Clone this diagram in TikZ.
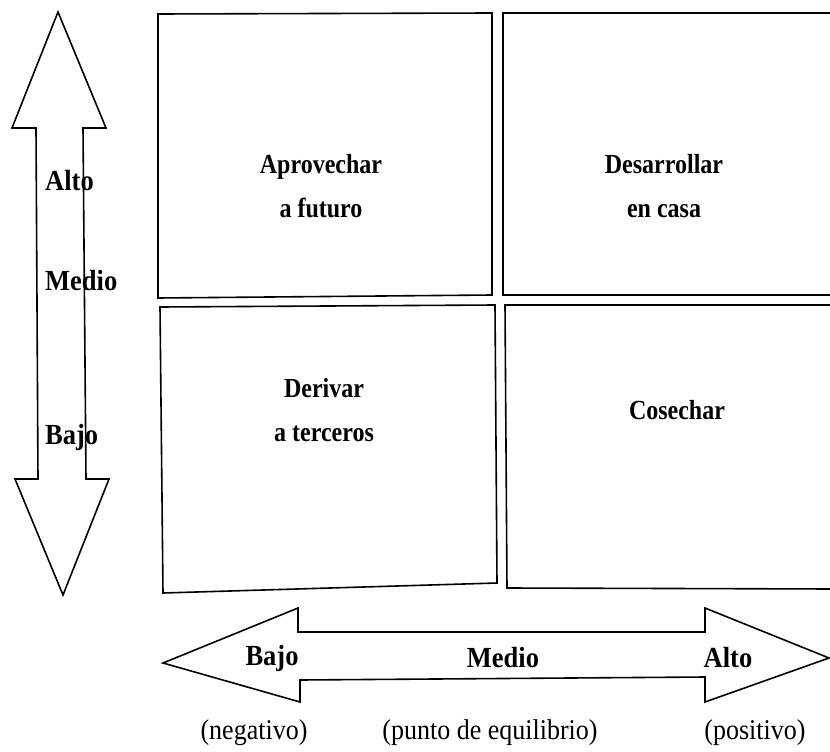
\documentclass[tikz,border=0pt]{standalone}
\usepackage{fontspec}
\setmainfont{Liberation Serif}
\begin{document}
\begin{tikzpicture}[x=1pt,y=-1pt,
  outline/.style={draw=black,line width=1.6pt,line join=miter,fill=white},
  quad/.style={font=\fontsize{24}{30}\selectfont\bfseries,align=center,inner sep=0pt,yscale=1.15},
  axlab/.style={font=\fontsize{26.5}{30}\selectfont\bfseries,inner sep=0pt,yscale=1.1},
  note/.style={font=\fontsize{26}{30}\selectfont,inner sep=0pt,yscale=1.1}]
\useasboundingbox (0,0) rectangle (830,752);
\clip (0,0) rectangle (830,752);
% quadrants
\draw[outline] (158,14) -- (492,13) -- (492,295) -- (158,298) -- cycle;
\draw[outline] (503,13) -- (835,13) -- (835,295) -- (503,295) -- cycle;
\draw[outline] (160,307) -- (495,305) -- (497,583) -- (163,593) -- cycle;
\draw[outline] (505,305) -- (835,305) -- (835,589) -- (507,588) -- cycle;
% vertical arrow
\draw[outline] (58,12) -- (106,128) -- (83,128) -- (86,479) -- (109,479) -- (63,595)
  -- (15,479) -- (38,479) -- (36,128) -- (12,128) -- cycle;
% horizontal arrow
\draw[outline] (163,663) -- (298,608) -- (298,632) -- (705,632) -- (705,608) -- (829,658)
  -- (705,702) -- (705,677) -- (300,680) -- (300,702) -- cycle;
% quadrant labels
\node[quad] (q1) at (321,186) {Aprovechar\\[8pt]a futuro};
\node[quad] (q2) at (664,186) {Desarrollar\\[8pt]en casa};
\node[quad] (q3) at (324,410) {Derivar\\[8pt]a terceros};
\node[quad] (q4) at (677,410) {Cosechar};
% vertical axis labels
\node[axlab,anchor=west] (va) at (45,181) {Alto};
\node[axlab,anchor=west] (vm) at (45,281) {Medio};
\node[axlab,anchor=west] (vb) at (45,437) {Bajo};
% horizontal axis labels
\node[axlab] (hb) at (272,658) {Bajo};
\node[axlab] (hm) at (503,658) {Medio};
\node[axlab] (ha) at (728,658) {Alto};
% notes
\node[note] (n1) at (254,733) {(negativo)};
\node[note] (n2) at (490,733) {(punto de equilibrio)};
\node[note] (n3) at (755,733) {(positivo)};
\end{tikzpicture}
\end{document}
